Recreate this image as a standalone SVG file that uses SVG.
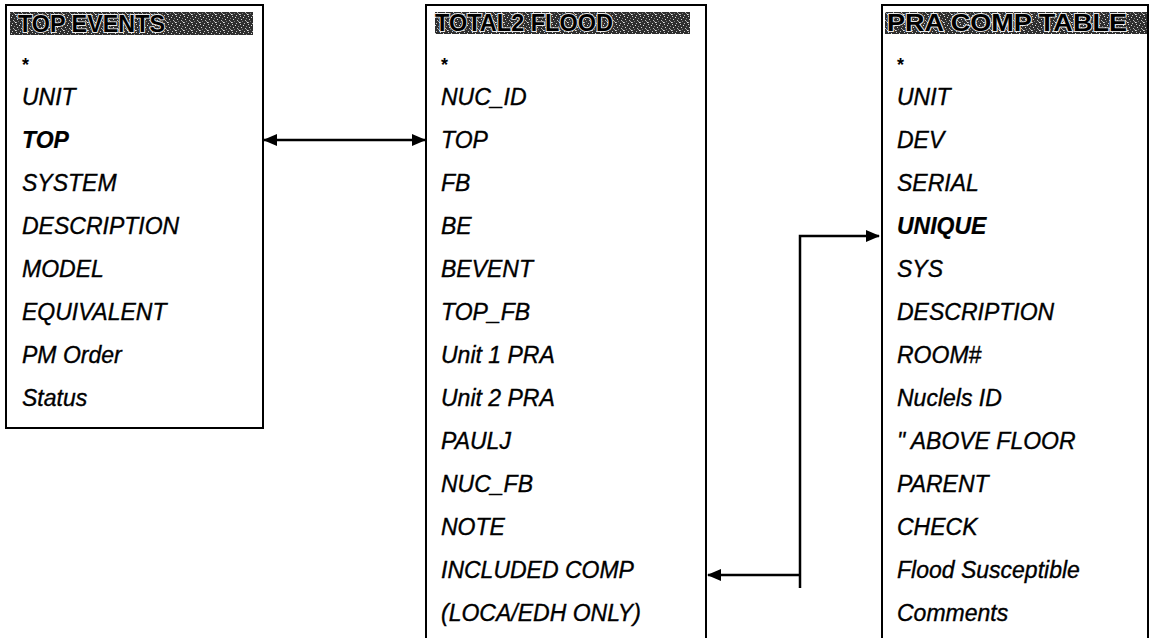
<svg xmlns="http://www.w3.org/2000/svg" width="1151" height="638" viewBox="0 0 1151 638">
  <style>
    .box { fill: #ffffff; stroke: #000; stroke-width: 2; }
    .side { stroke: #000; stroke-width: 2; fill: none; }
    .hdr { fill: url(#noise); }
    .htxt { font-family: "Liberation Sans", Arial, sans-serif; font-weight: bold; font-size: 23px; fill: #000; stroke: #e8e8e8; stroke-width: 1.8; paint-order: stroke; }
    .f { font-family: "Liberation Sans", Arial, sans-serif; font-style: italic; font-size: 23px; fill: #000; stroke: #000; stroke-width: 0.35; }
    .b { font-weight: bold; stroke-width: 0.2; }
    .ast { font-family: "Liberation Sans", Arial, sans-serif; font-weight: bold; font-size: 18px; fill: #000; }
    .conn { stroke: #000; stroke-width: 2.5; fill: none; }
  </style>
  <defs>
    <pattern id="noise" width="8" height="8" patternUnits="userSpaceOnUse">
      <rect width="8" height="8" fill="#2e2e2e"/>
      <rect x="0" y="0" width="1" height="1" fill="#cfcfcf"/>
      <rect x="3" y="1" width="1" height="1" fill="#e0e0e0"/>
      <rect x="6" y="2" width="1" height="1" fill="#8a8a8a"/>
      <rect x="1" y="3" width="1" height="1" fill="#d8d8d8"/>
      <rect x="5" y="4" width="1" height="1" fill="#bdbdbd"/>
      <rect x="2" y="5" width="1" height="1" fill="#777"/>
      <rect x="7" y="6" width="1" height="1" fill="#e8e8e8"/>
      <rect x="4" y="7" width="1" height="1" fill="#c0c0c0"/>
      <rect x="6" y="5" width="1" height="1" fill="#9a9a9a"/>
      <rect x="0" y="6" width="1" height="1" fill="#aaa"/>
    </pattern>
    <marker id="ah" viewBox="0 0 14 12" refX="13" refY="6" markerWidth="14" markerHeight="12" orient="auto-start-reverse" markerUnits="userSpaceOnUse">
      <path d="M0,0 L14,6 L0,12 z" fill="#000"/>
    </marker>
  </defs>

  <g id="top-events">
    <rect class="box" x="6" y="5" width="257" height="423"/>
    <rect class="hdr" x="10" y="12" width="243" height="23"/>
    <text class="htxt" x="18" y="32" textLength="147" lengthAdjust="spacingAndGlyphs">TOP EVENTS</text>
    <text class="ast" x="22" y="71">*</text>
    <text class="f" x="22" y="105">UNIT</text>
    <text class="f b" x="22" y="148">TOP</text>
    <text class="f" x="22" y="191">SYSTEM</text>
    <text class="f" x="22" y="234">DESCRIPTION</text>
    <text class="f" x="22" y="277">MODEL</text>
    <text class="f" x="22" y="320">EQUIVALENT</text>
    <text class="f" x="22" y="363">PM Order</text>
    <text class="f" x="22" y="406">Status</text>
  </g>

  <g id="total2-flood">
    <path class="side" d="M426,638 V5 H706 V638"/>
    <rect class="hdr" x="435" y="12" width="255" height="22"/>
    <text class="htxt" x="435" y="31" textLength="178" lengthAdjust="spacingAndGlyphs">TOTAL2 FLOOD</text>
    <text class="ast" x="441" y="71">*</text>
    <text class="f" x="441" y="105">NUC_ID</text>
    <text class="f" x="441" y="148">TOP</text>
    <text class="f" x="441" y="191">FB</text>
    <text class="f" x="441" y="234">BE</text>
    <text class="f" x="441" y="277">BEVENT</text>
    <text class="f" x="441" y="320">TOP_FB</text>
    <text class="f" x="441" y="363">Unit 1 PRA</text>
    <text class="f" x="441" y="406">Unit 2 PRA</text>
    <text class="f" x="441" y="449">PAULJ</text>
    <text class="f" x="441" y="492">NUC_FB</text>
    <text class="f" x="441" y="535">NOTE</text>
    <text class="f" x="441" y="578">INCLUDED COMP</text>
    <text class="f" x="441" y="621">(LOCA/EDH ONLY)</text>
  </g>

  <g id="pra-comp-table">
    <path class="side" d="M882,638 V5 H1148 V638"/>
    <rect class="hdr" x="885" y="12" width="262" height="22"/>
    <text class="htxt" x="887" y="31" textLength="240" lengthAdjust="spacingAndGlyphs">PRA COMP TABLE</text>
    <text class="ast" x="897" y="71">*</text>
    <text class="f" x="897" y="105">UNIT</text>
    <text class="f" x="897" y="148">DEV</text>
    <text class="f" x="897" y="191">SERIAL</text>
    <text class="f b" x="897" y="234">UNIQUE</text>
    <text class="f" x="897" y="277">SYS</text>
    <text class="f" x="897" y="320">DESCRIPTION</text>
    <text class="f" x="897" y="363">ROOM#</text>
    <text class="f" x="897" y="406">Nuclels ID</text>
    <text class="f" x="897" y="449">" ABOVE FLOOR</text>
    <text class="f" x="897" y="492">PARENT</text>
    <text class="f" x="897" y="535">CHECK</text>
    <text class="f" x="897" y="578">Flood Susceptible</text>
    <text class="f" x="897" y="621">Comments</text>
  </g>

  <g id="connectors">
    <path class="conn" d="M264,140 H425" marker-start="url(#ah)" marker-end="url(#ah)"/>
    <path class="conn" d="M800,588 V236 H879" marker-end="url(#ah)"/>
    <path class="conn" d="M800,575 H708" marker-end="url(#ah)"/>
  </g>
</svg>
